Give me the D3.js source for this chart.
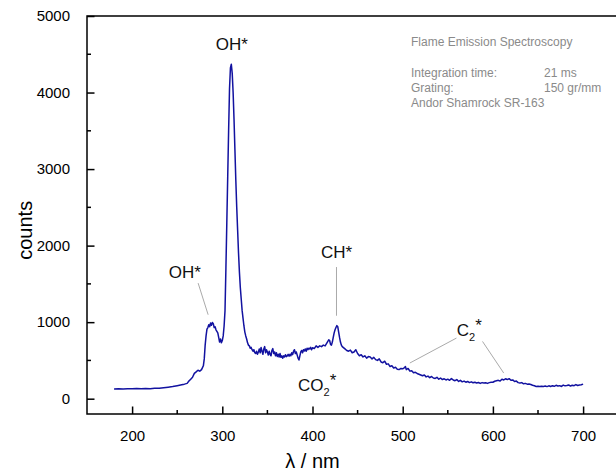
<!DOCTYPE html>
<html>
<head>
<meta charset="utf-8">
<script src="https://cdn.jsdelivr.net/npm/d3@7"></script>
<style>
  body { margin: 0; background: #fff; }
  svg { display: block; font-family: "Liberation Sans", Arial, sans-serif; }
</style>
</head>
<body>
<script>
  // Emission spectrum (wavelength in nm, counts)
  const wavelength = [
    180,185,190,195,200,205,210,215,220,225,230,235,240,245,250,255,258,261,263,265,
    267,269,271,273,275,277,279,280,281,282,283,284,285,286,287,288,289,290,291,292,
    293,294,295,296,297,298,299,300,301,302,303,304,305,306,307,308,309,310,311,312,
    313,314,315,316,317,318,319,320,321,322,323,324,325,326,327,328,329,330,331,332,
    333,334,335,336,337,338,339,340,341,342,343,344,345,346,347,348,349,350,351,352,
    353,354,355,356,357,358,359,360,361,362,363,364,365,366,367,368,369,370,371,372,
    373,374,375,376,377,378,379,380,381,382,383,384,385,386,387,388,389,390,391,392,
    393,394,395,396,397,398,399,400,402,404,406,408,410,412,414,416,418,419,420,421,
    422,423,424,425,426,427,428,429,430,431,432,433,434,436,438,440,442,444,446,448,
    450,452,454,456,458,460,462,464,466,468,470,472,474,476,478,480,482,484,486,488,
    490,492,494,496,498,500,502,503,504,506,508,510,512,514,516,518,520,522,524,526,
    528,530,532,534,536,538,540,542,544,546,548,550,552,554,556,558,560,562,564,566,
    568,570,572,574,576,578,580,582,584,586,588,590,592,594,596,598,600,602,604,606,
    608,610,612,614,616,618,620,622,624,626,628,630,632,634,636,638,640,642,644,646,
    648,650,652,654,656,658,660,662,664,666,668,670,672,674,676,678,680,682,684,686,
    688,690,692,694,696,698,700
  ];
  const counts = [
    128,130,127,131,129,132,130,133,131,136,135,142,150,158,170,182,190,200,230,255,
    280,330,350,372,360,380,430,520,700,820,910,930,965,940,990,960,995,980,930,940,
    900,880,860,800,740,780,730,760,820,950,1150,1700,2300,2900,3500,4050,4320,4370,4250,4000,
    3650,3250,2850,2500,2200,1900,1650,1450,1300,1150,1050,950,870,820,780,730,700,690,660,670,
    640,620,640,600,590,620,580,610,650,600,670,620,580,650,680,600,640,610,570,620,
    580,560,630,655,590,610,560,600,550,580,545,590,540,560,530,560,545,575,550,560,
    580,555,580,560,600,575,620,640,590,610,570,530,505,560,610,630,600,640,625,650,
    620,660,640,660,650,670,640,665,655,690,670,690,680,700,690,730,770,760,710,700,
    740,800,860,900,930,955,940,870,800,740,700,680,670,650,630,620,635,600,610,640,
    590,560,575,545,560,530,550,545,520,540,510,500,520,480,470,490,450,455,420,430,
    400,410,385,380,395,390,405,420,380,395,360,365,340,345,330,320,310,300,310,285,
    295,275,290,270,265,280,255,270,250,260,245,255,240,262,245,235,250,225,240,220,
    230,215,225,210,220,208,215,205,212,200,210,205,208,200,210,215,215,228,235,240,
    230,255,245,260,250,262,240,245,225,230,210,205,210,195,200,190,192,185,175,168,
    160,162,158,163,160,165,158,168,160,170,162,175,165,170,160,178,168,172,180,165,
    175,170,185,172,178,182,190
  ];

  // axes
  const xDomain = [150, 750];
  const yDomain = [-200, 5000];
  const xMajor = [200, 300, 400, 500, 600, 700];
  const xMinor = [250, 350, 450, 550, 650];
  const yMajor = [0, 1000, 2000, 3000, 4000, 5000];
  const yMinor = [500, 1500, 2500, 3500, 4500];

  // peak labels: text and anchor point in data units
  const peakLabels = [
    { text: "OH*", x: 310.5, y: 4560 },
    { text: "OH*", x: 258.5, y: 1580 },
    { text: "CH*", x: 426.6, y: 1837 }
  ];
  // leader lines [x1, y1, x2, y2] in data units
  const leaders = [
    [273.2, 1510, 284.3, 1097],
    [426.6, 1720, 426.6, 1084],
    [559.6, 792, 507.9, 466],
    [588.5, 748, 612, 335]
  ];

  const infoLines = [
    ["Flame Emission Spectroscopy", ""],
    ["", ""],
    ["Integration time:", "21 ms"],
    ["Grating:", "150 gr/mm"],
    ["Andor Shamrock SR-163", ""]
  ];

  const width = 616, height = 472;
  const plotLeft = 87, plotTop = 16, plotBottom = 414;

  const svg = d3.select("body").append("svg")
    .attr("width", width)
    .attr("height", height);

  const x = d3.scaleLinear().domain(xDomain).range([plotLeft, plotLeft + 600 * 0.902]);
  const y = d3.scaleLinear().domain(yDomain).range([plotBottom, plotTop]);

  // spectrum
  const pts = wavelength.map((w, i) => [w, counts[i]]);
  svg.append("path")
    .datum(pts)
    .attr("fill", "none")
    .attr("stroke", "#1212a0")
    .attr("stroke-width", 1.5)
    .attr("stroke-linejoin", "round")
    .attr("d", d3.line().x(d => x(d[0])).y(d => y(d[1])));

  // frame (right side falls outside the image)
  svg.append("rect")
    .attr("x", plotLeft).attr("y", plotTop)
    .attr("width", x(750) - plotLeft).attr("height", plotBottom - plotTop)
    .attr("fill", "none").attr("stroke", "#000").attr("stroke-width", 1.5);

  // bottom axis, ticks inside
  const xAxis = svg.append("g").attr("transform", `translate(0,${plotBottom})`)
    .call(d3.axisBottom(x).tickValues(xMajor).tickSizeInner(-7.5).tickSizeOuter(0).tickPadding(16));
  xAxis.select(".domain").remove();
  xAxis.selectAll("line").attr("stroke-width", 1.5);
  xAxis.selectAll("text").attr("font-size", 15).attr("font-family", "Liberation Sans, Arial, sans-serif");
  svg.append("g").selectAll("line").data(xMinor).join("line")
    .attr("x1", d => x(d)).attr("x2", d => x(d))
    .attr("y1", plotBottom).attr("y2", plotBottom - 4)
    .attr("stroke", "#000").attr("stroke-width", 1.5);

  // left axis, ticks inside
  const yAxis = svg.append("g").attr("transform", `translate(${plotLeft},0)`)
    .call(d3.axisLeft(y).tickValues(yMajor).tickFormat(d3.format("d")).tickSizeInner(-7.5).tickSizeOuter(0).tickPadding(17));
  yAxis.select(".domain").remove();
  yAxis.selectAll("line").attr("stroke-width", 1.5);
  yAxis.selectAll("text").attr("font-size", 15).attr("font-family", "Liberation Sans, Arial, sans-serif");
  svg.append("g").selectAll("line").data(yMinor).join("line")
    .attr("x1", plotLeft).attr("x2", plotLeft + 4)
    .attr("y1", d => y(d)).attr("y2", d => y(d))
    .attr("stroke", "#000").attr("stroke-width", 1.5);

  // axis titles
  svg.append("text")
    .attr("x", x(400)).attr("y", 468)
    .attr("text-anchor", "middle").attr("font-size", 20)
    .text("λ / nm");
  svg.append("text")
    .attr("transform", `translate(32,${y(2200)}) rotate(-90)`)
    .attr("text-anchor", "middle").attr("font-size", 20)
    .text("counts");

  // leader lines
  svg.append("g").selectAll("line").data(leaders).join("line")
    .attr("x1", d => x(d[0])).attr("y1", d => y(d[1]))
    .attr("x2", d => x(d[2])).attr("y2", d => y(d[3]))
    .attr("stroke", "#aaa").attr("stroke-width", 1);

  // peak labels
  svg.append("g").selectAll("text").data(peakLabels).join("text")
    .attr("x", d => x(d.x)).attr("y", d => y(d.y))
    .attr("text-anchor", "middle").attr("font-size", 17).attr("fill", "#111")
    .text(d => d.text);

  // labels with subscripts
  function subLabel(base, sub, wx, wy) {
    const t = svg.append("text")
      .attr("x", x(wx)).attr("y", y(wy))
      .attr("font-size", 17).attr("fill", "#111");
    t.append("tspan").text(base);
    t.append("tspan").attr("font-size", 11).attr("dy", 5).text(sub);
    t.append("tspan").attr("dy", -10).text("*");
  }
  subLabel("C", "2", 560, 822);
  subLabel("CO", "2", 384, 95);

  // info block
  const info = svg.append("g").attr("font-size", 12).attr("fill", "#8a8a8a");
  infoLines.forEach((row, i) => {
    info.append("text").attr("x", 411).attr("y", 46 + i * 15.3).text(row[0]);
    if (row[1]) info.append("text").attr("x", 544).attr("y", 46 + i * 15.3).text(row[1]);
  });
</script>
</body>
</html>
